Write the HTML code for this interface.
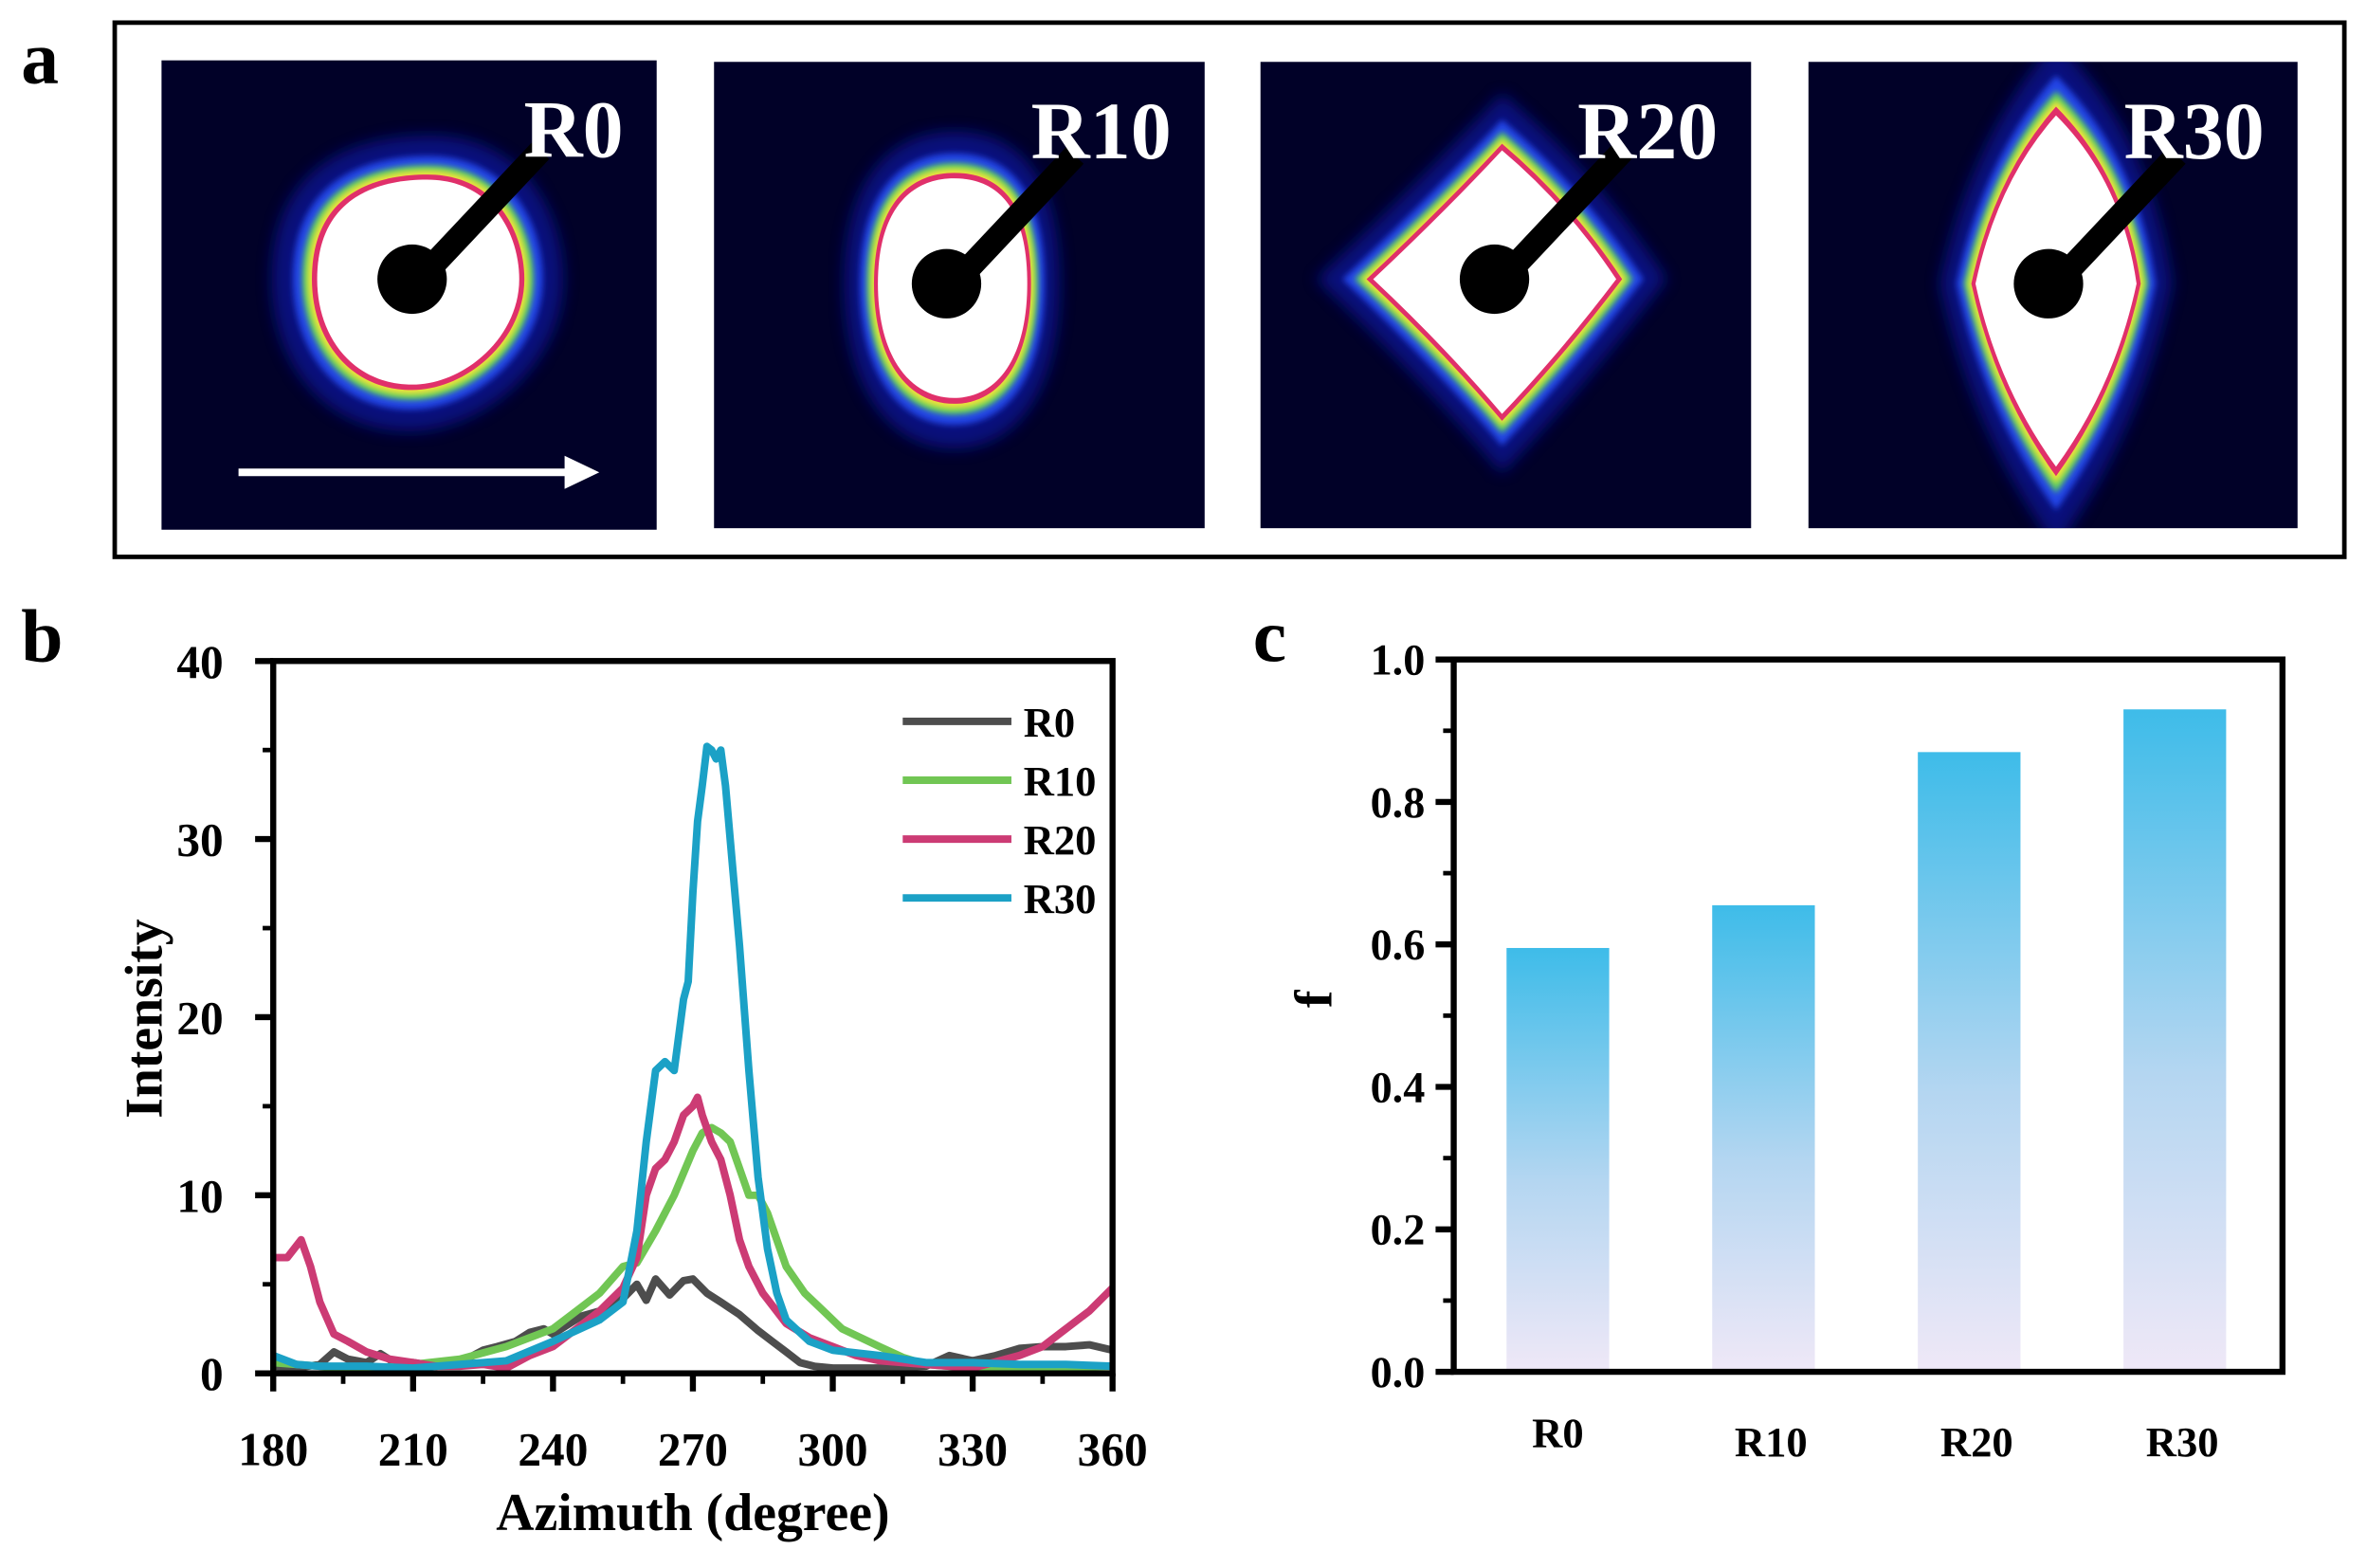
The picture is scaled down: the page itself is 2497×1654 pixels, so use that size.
<!DOCTYPE html>
<html><head><meta charset="utf-8"><style>
html,body{margin:0;padding:0;background:#fff;}
svg{display:block;}
text{font-family:"Liberation Serif",serif;font-weight:bold;}
</style></head><body>
<svg id="fig" width="2497" height="1654" viewBox="0 0 1568 1039" preserveAspectRatio="none" xmlns="http://www.w3.org/2000/svg">
<defs>
<linearGradient id="barg" x1="0" y1="0" x2="0" y2="1">
<stop offset="0" stop-color="#3ebce9"/><stop offset="0.55" stop-color="#b4d6f1"/><stop offset="1" stop-color="#efe8f7"/>
</linearGradient>
<filter id="blur4"><feGaussianBlur stdDeviation="5"/></filter>
<filter id="blur2"><feGaussianBlur stdDeviation="2"/></filter>
</defs>
<rect width="1568" height="1039" fill="#fff"/>
<text x="14" y="55" font-size="50">a</text>
<text x="14" y="438" font-size="50">b</text>
<text x="830" y="438" font-size="50">c</text>
<rect x="76" y="15" width="1477" height="354" fill="none" stroke="#000" stroke-width="3"/>
<g id="saxs"></g>
<g id="chartb"></g>
<g id="chartc"></g>
</svg>
<script>
const NS="http://www.w3.org/2000/svg";
function mk(tag,attrs,parent){const e=document.createElementNS(NS,tag);for(const k in attrs)e.setAttribute(k,attrs[k]);parent.appendChild(e);return e;}

// ---------- Panel a: SAXS images ----------
const saxsLabels=["R0","R10","R20","R30"];
const saxsBoxes=[[107,40,328,311],[473,41,325,309],[835,41,325,309],[1198,41,324,309]];
const saxs=document.getElementById('saxs');
function shapePath(i,cx,cy,s){
  if(i===0){return `M${cx-70*s},${cy} C${cx-70*s},${cy-55*s} ${cx-30*s},${cy-68*s} ${cx+5*s},${cy-68*s} C${cx+50*s},${cy-68*s} ${cx+68*s},${cy-30*s} ${cx+68*s},${cy} C${cx+68*s},${cy+40*s} ${cx+30*s},${cy+72*s} ${cx-5*s},${cy+72*s} C${cx-45*s},${cy+72*s} ${cx-70*s},${cy+40*s} ${cx-70*s},${cy}Z`;}
  if(i===1){return `M${cx-52*s},${cy} C${cx-52*s},${cy-50*s} ${cx-30*s},${cy-72*s} ${cx},${cy-72*s} C${cx+35*s},${cy-72*s} ${cx+50*s},${cy-45*s} ${cx+50*s},${cy} C${cx+50*s},${cy+50*s} ${cx+30*s},${cy+78*s} ${cx},${cy+78*s} C${cx-30*s},${cy+78*s} ${cx-52*s},${cy+50*s} ${cx-52*s},${cy}Z`;}
  if(i===2){return `M${cx-88*s},${cy} Q${cx-40*s},${cy-45*s} ${cx},${cy-88*s} Q${cx+45*s},${cy-50*s} ${cx+78*s},${cy} Q${cx+40*s},${cy+50*s} ${cx},${cy+92*s} Q${cx-40*s},${cy+45*s} ${cx-88*s},${cy}Z`;}
  return `M${cx-55*s},${cy} Q${cx-40*s},${cy-70*s} ${cx},${cy-115*s} Q${cx+45*s},${cy-70*s} ${cx+55*s},${cy} Q${cx+40*s},${cy+70*s} ${cx},${cy+125*s} Q${cx-40*s},${cy+70*s} ${cx-55*s},${cy}Z`;
}
const centers=[[278,185],[632,188],[995,185],[1362,188]];
saxsBoxes.forEach((b,i)=>{
  const g=mk('g',{},saxs);
  
  
  mk('rect',{x:b[0],y:b[1],width:b[2],height:b[3],fill:'#010128'},g);
  const [cx,cy]=centers[i];
  const clip=mk('clipPath',{id:'cp'+i},g);
  mk('rect',{x:b[0],y:b[1],width:b[2],height:b[3]},clip);
  const inner=mk('g',{'clip-path':'url(#cp'+i+')'},g);
  mk('path',{d:shapePath(i,cx,cy,1.4),fill:'#0a12a0',filter:'url(#blur4)',opacity:0.7},inner);
  mk('path',{d:shapePath(i,cx,cy,1.2),fill:'#2344e6',filter:'url(#blur2)'},inner);
  mk('path',{d:shapePath(i,cx,cy,1.11),fill:'#5fd35a',filter:'url(#blur2)'},inner);
  mk('path',{d:shapePath(i,cx,cy,1.06),fill:'#f2e23a',filter:'url(#blur2)'},inner);
  mk('path',{d:shapePath(i,cx,cy,1.02),fill:'#e0306a'},inner);
  mk('path',{d:shapePath(i,cx,cy,0.97),fill:'#ffffff'},inner);
  mk('line',{x1:cx,y1:cy,x2:cx+80,y2:cy-85,stroke:'#000','stroke-width':16},inner);
  mk('circle',{cx:cx-5,cy:cy,r:23,fill:'#000'},inner);
  const t=mk('text',{x:b[0]+b[2]-22,y:b[1]+64,'font-size':54,fill:'#fff','text-anchor':'end'},g);
  t.textContent=saxsLabels[i];
  
  
});
const arrow=mk('g',{},saxs);


mk('line',{x1:158,y1:313,x2:380,y2:313,stroke:'#fff','stroke-width':5},arrow);
mk('polygon',{points:'397,313 374,302 374,324',fill:'#fff'},arrow);

// ---------- Panel b: line chart ----------
const seriesNames=["R0","R10","R20","R30"];
const seriesColors=["#4d4d4d","#71c654","#cc3b74","#1ba1c6"];
const r0Angles=[180,185,190,193,196,200,203,206,210,215,220,225,228,232,235,238,240,243,246,250,255,258,260,262,265,268,270,273,276,280,284,287,290,293,296,300,310,320,325,330,335,340,345,350,355,360];
const r0Values=[0.4,0.3,0.5,1.2,0.8,0.6,1.1,0.6,0.6,0.4,0.6,1.3,1.5,1.8,2.3,2.5,2.2,2.7,3.2,3.5,4.2,5.0,4.1,5.3,4.4,5.2,5.3,4.5,4.0,3.3,2.4,1.8,1.2,0.6,0.4,0.3,0.3,0.4,1.0,0.7,1.0,1.4,1.5,1.5,1.6,1.3];
const r10Angles=[180,190,200,210,220,230,240,245,250,255,258,262,266,270,272,274,276,278,280,282,284,286,288,290,294,298,302,306,310,315,320,325,330,340,360];
const r10Values=[0.6,0.4,0.2,0.5,0.8,1.5,2.5,3.5,4.5,6.0,6.2,8.0,10.0,12.5,13.5,13.8,13.5,13.0,11.5,10.0,10.0,9.0,7.5,6.0,4.5,3.5,2.5,2.0,1.5,0.9,0.5,0.4,0.3,0.3,0.4];
const r20Angles=[180,183,186,188,190,193,196,200,205,210,215,220,225,230,235,240,245,250,255,258,260,262,264,266,268,270,271,272,274,276,278,280,282,285,290,295,300,305,310,320,330,340,345,350,355,360];
const r20Values=[6.5,6.5,7.5,6.0,4.0,2.2,1.8,1.2,0.8,0.6,0.4,0.4,0.5,0.3,1.0,1.5,2.5,3.5,4.8,6.5,10.0,11.5,12.0,13.0,14.5,15.0,15.5,14.5,13.0,12.0,10.0,7.5,6.0,4.5,2.8,2.0,1.5,1.0,0.7,0.5,0.3,1.0,1.5,2.5,3.5,4.8];
const r30Angles=[180,185,190,200,210,220,230,240,250,255,258,260,262,264,266,267,268,269,270,271,272,273,274,275,276,277,278,280,282,284,286,288,290,295,300,310,320,330,340,350,360];
const r30Values=[1.0,0.5,0.4,0.4,0.3,0.5,0.7,1.8,3.0,4.0,8.0,13.0,17.0,17.5,17.0,19.0,21.0,22.0,27.0,31.0,33.0,35.2,35.0,34.5,35.0,33.0,30.0,24.0,17.0,11.0,7.0,4.5,3.0,1.8,1.3,1.0,0.6,0.6,0.5,0.5,0.4];
const xTicksB=[180,210,240,270,300,330,360];
const yTicksB=[0,10,20,30,40];
const bx0=181,bx1=737,by0=910,by1=438;
const sxB=v=>bx0+(v-180)/(360-180)*(bx1-bx0);
const syB=v=>by0-(v-0)/(40-0)*(by0-by1);
const cb=document.getElementById('chartb');
const allSeries=[[r0Angles,r0Values],[r10Angles,r10Values],[r20Angles,r20Values],[r30Angles,r30Values]];
const clipB=mk('clipPath',{id:'clipb'},cb);
mk('rect',{x:bx0,y:by1-10,width:bx1-bx0,height:by0-by1+10},clipB);
const linesG=mk('g',{'clip-path':'url(#clipb)'},cb);
allSeries.forEach((s,i)=>{
  const d=s[0].map((a,j)=>(j?'L':'M')+sxB(a).toFixed(1)+','+syB(s[1][j]).toFixed(1)).join(' ');
  const p=mk('path',{d:d,fill:'none',stroke:seriesColors[i],'stroke-width':5,'stroke-linejoin':'round'},linesG);
  
  
});
const frameB=mk('rect',{x:bx0,y:by1,width:bx1-bx0,height:by0-by1,fill:'none',stroke:'#000','stroke-width':4},cb);


xTicksB.forEach(v=>{
  mk('line',{x1:sxB(v),y1:by0,x2:sxB(v),y2:by0+12,stroke:'#000','stroke-width':4},cb);
  const t=mk('text',{x:sxB(v),y:971,'font-size':31,'text-anchor':'middle'},cb);
  t.textContent=v;
  
  
});
for(let v=15;v<360;v+=30){ if(v>180) mk('line',{x1:sxB(v),y1:by0,x2:sxB(v),y2:by0+7,stroke:'#000','stroke-width':3},cb);}
yTicksB.forEach(v=>{
  mk('line',{x1:bx0-12,y1:syB(v),x2:bx0,y2:syB(v),stroke:'#000','stroke-width':4},cb);
  const t=mk('text',{x:148,y:syB(v)+11,'font-size':31,'text-anchor':'end'},cb);
  t.textContent=v;
  
  
});
for(let v=5;v<40;v+=10) mk('line',{x1:bx0-7,y1:syB(v),x2:bx0,y2:syB(v),stroke:'#000','stroke-width':3},cb);
const xt=mk('text',{x:459,y:1014,'font-size':35,'text-anchor':'middle'},cb);
xt.textContent="Azimuth (degree)";


const yt=mk('text',{x:0,y:0,'font-size':35,'text-anchor':'middle',transform:'translate(107,675) rotate(-90)'},cb);
yt.textContent="Intensity";


seriesNames.forEach((n,i)=>{
  const g=mk('g',{},cb);
  
  
  const y=478+i*39;
  mk('line',{x1:598,y1:y,x2:670,y2:y,stroke:seriesColors[i],'stroke-width':5},g);
  const t=mk('text',{x:678,y:y+10,'font-size':28},g);
  t.textContent=n;
});

// ---------- Panel c: bar chart ----------
const barCats=["R0","R10","R20","R30"];
const barValues=[0.595,0.655,0.87,0.93];
const yTicksC=[0.0,0.2,0.4,0.6,0.8,1.0];
const cx0=963,cx1=1512,cy0=909,cy1=437;
const syC=v=>cy0-v/1.0*(cy0-cy1);
const band=(cx1-cx0)/4.03;
const sxC=i=>cx0+69+i*band;
const cc=document.getElementById('chartc');
barCats.forEach((c,i)=>{
  const w=68;
  const r=mk('rect',{x:sxC(i)-w/2,y:syC(barValues[i]),width:w,height:cy0-syC(barValues[i]),fill:'url(#barg)'},cc);
  
  
  const t=mk('text',{x:sxC(i)+(i?5:0),y:i?965:959,'font-size':28,'text-anchor':'middle'},cc);
  t.textContent=c;
  
  
});
const frameC=mk('rect',{x:cx0,y:cy1,width:cx1-cx0,height:cy0-cy1,fill:'none',stroke:'#000','stroke-width':4},cc);


yTicksC.forEach(v=>{
  mk('line',{x1:cx0-12,y1:syC(v),x2:cx0,y2:syC(v),stroke:'#000','stroke-width':4},cc);
  const t=mk('text',{x:944,y:syC(v)+10,'font-size':29,'text-anchor':'end'},cc);
  t.textContent=v.toFixed(1);
  
  
});
for(let v=0.1;v<1;v+=0.2) mk('line',{x1:cx0-7,y1:syC(v),x2:cx0,y2:syC(v),stroke:'#000','stroke-width':3},cc);
const ft=mk('text',{x:0,y:0,'font-size':35,'text-anchor':'middle',transform:'translate(882,662) rotate(-90)'},cc);
ft.textContent="f";


</script>
</body></html>
